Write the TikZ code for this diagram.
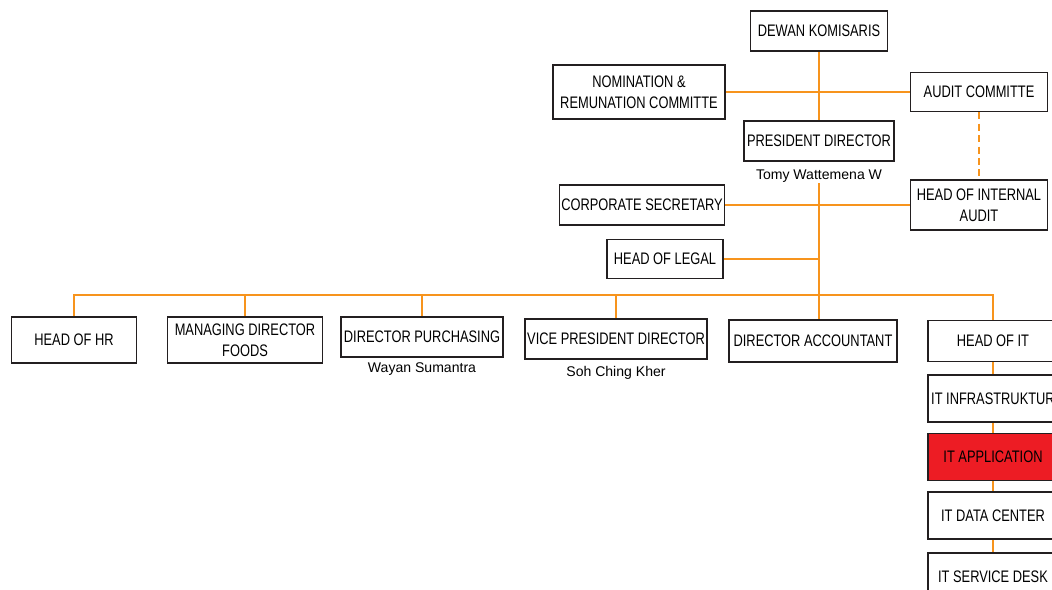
\documentclass[tikz,border=0pt]{standalone}
\usepackage{fontspec}
\setmainfont{Liberation Sans}[FakeStretch=0.77]
\newfontfamily\namefont{Liberation Sans}
\usepackage{xcolor}
\usetikzlibrary{positioning}
\definecolor{orgline}{HTML}{F7941D}
\definecolor{boxline}{HTML}{231F20}
\definecolor{itred}{HTML}{ED1C24}

\begin{document}
\begin{tikzpicture}[x=0.02cm, y=-0.02cm]
        \tikzset{unit/.style={rectangle, draw=boxline, line width=0.9pt, align=center, inner sep=1pt, font=\fontsize{9.5}{12}\selectfont}}
        \tikzset{itunit/.style={unit, minimum width=2.6cm, minimum height=0.94cm}}
        \tikzset{person/.style={font=\namefont\fontsize{8}{9}\selectfont, inner sep=0pt}}
        \tikzset{link/.style={draw=orgline, line width=1pt}}

        \useasboundingbox (0,0) rectangle (1052,590);
        \clip (0,0) rectangle (1052,590);

        \node [unit, minimum width=2.74cm, minimum height=0.8cm] (dk) at (819,31) {DEWAN KOMISARIS};
        \node [unit, minimum width=3.44cm, minimum height=1.08cm] (nrc) at (639,92) {NOMINATION \&\\REMUNATION COMMITTE};
        \node [unit, minimum width=2.74cm, minimum height=0.78cm] (ac) at (979,92) {AUDIT COMMITTE};
        \node [unit, minimum width=3.0cm, minimum height=0.8cm] (pd) at (819,141) {PRESIDENT DIRECTOR};
        \node [person, below=0.16cm of pd] (pdn) {Tomy Wattemena W};
        \node [unit, minimum width=3.28cm, minimum height=0.8cm] (cs) at (642,205) {CORPORATE SECRETARY};
        \node [unit, minimum width=2.74cm, minimum height=1.0cm] (hia) at (979,205) {HEAD OF INTERNAL\\AUDIT};
        \node [unit, minimum width=2.32cm, minimum height=0.78cm] (hl) at (665,259) {HEAD OF LEGAL};

        \node [unit, minimum width=2.5cm, minimum height=0.92cm] (hr) at (74,340) {HEAD OF HR};
        \node [unit, minimum width=3.1cm, minimum height=0.92cm] (mdf) at (245,340) {MANAGING DIRECTOR\\FOODS};
        \node [unit, minimum width=3.24cm, minimum height=0.8cm] (dp) at (422,337) {DIRECTOR PURCHASING};
        \node [person, below=0.1cm of dp] (dpn) {Wayan Sumantra};
        \node [unit, minimum width=3.64cm, minimum height=0.8cm] (vpd) at (616,339) {VICE PRESIDENT DIRECTOR};
        \node [person, below=0.12cm of vpd] (vpdn) {Soh Ching Kher};
        \node [unit, minimum width=3.36cm, minimum height=0.84cm] (da) at (813,341) {DIRECTOR ACCOUNTANT};
        \node [itunit, minimum height=0.82cm] (hit) at (993,341) {HEAD OF IT};
        \node [itunit, below=0.24cm of hit] (iti) {IT INFRASTRUKTUR};
        \node [itunit, fill=itred, below=0.2cm of iti] (ita) {IT APPLICATION};
        \node [itunit, below=0.2cm of ita] (itd) {IT DATA CENTER};
        \node [itunit, below=0.24cm of itd] (its) {IT SERVICE DESK};

        \coordinate (bus) at (0,295);

        \draw [link] (dk.south) -- (pd.north);
        \draw [link] (pdn.south) -- (pdn.south |- da.north);
        \draw [link] (nrc.east) -- (ac.west);
        \draw [link] (cs.east) -- (hia.west);
        \draw [link] (hl.east) -- (hl.east -| pdn.south);
        \draw [link, dash pattern=on 4pt off 2.5pt] (ac.south) -- (hia.north);
        \draw [link] (hr.north) |- (hit.north |- bus) -- (hit.north);
        \draw [link] (mdf.north) -- (mdf.north |- bus);
        \draw [link] (dp.north) -- (dp.north |- bus);
        \draw [link] (vpd.north) -- (vpd.north |- bus);
        \draw [link] (hit) -- (iti);
        \draw [link] (iti) -- (ita);
        \draw [link] (ita) -- (itd);
        \draw [link] (itd) -- (its);
    \end{tikzpicture}
\end{document}
